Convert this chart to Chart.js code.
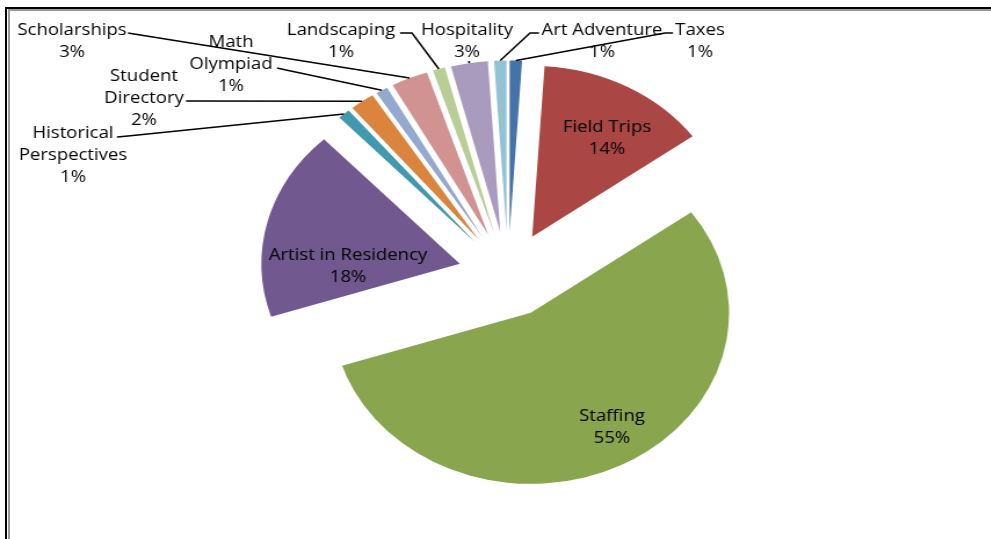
<!DOCTYPE html>
<html>
<head>
<meta charset="utf-8">
<script src="https://cdn.jsdelivr.net/npm/chart.js@4.4.0/dist/chart.umd.min.js"></script>
<style>
  html, body { margin: 0; padding: 0; background: #fff; }
  #page { position: relative; width: 991px; height: 539px; overflow: hidden; }
  #wrap { position: absolute; left: 0; top: 0; width: 855px; height: 539px;
          transform: scaleX(1.16); transform-origin: 0 0; }
  .rule { position: absolute; }
</style>
</head>
<body>
<div id="page">
  <div id="wrap"><canvas id="chart-budget" width="855" height="539"></canvas></div>
  <div class="rule" style="left:5px;top:7px;width:986px;height:2px;background:#000"></div>
  <div class="rule" style="left:8px;top:9px;width:983px;height:2px;background:#9a9a9a"></div>
  <div class="rule" style="left:5px;top:7px;width:2px;height:532px;background:#000"></div>
  <div class="rule" style="left:8px;top:9px;width:2px;height:530px;background:#9a9a9a"></div>
</div>
<script>
const categories = ['Taxes', 'Field Trips', 'Staffing', 'Artist in Residency',
  'Historical Perspectives', 'Student Directory', 'Math Olympiad', 'Scholarships',
  'Landscaping', 'Hospitality', 'Art Adventure'];
const shares = [1, 14, 55, 18, 1, 2, 1, 3, 1, 3, 1];
const sliceColors = ['#4572A7', '#AA4643', '#89A54E', '#71588F', '#4198AF', '#DB843D',
  '#93A9CF', '#D19392', '#B9CD96', '#A99BBD', '#91C3D5'];

const STRETCH = 1.16;   // el grafico original esta estirado a lo ancho
const EXPLODE = 43;     // separacion de cada rebanada

// posicion de las etiquetas (pixeles de la pagina) y quiebres de las lineas guia
const labelLayout = {
  'Taxes': { x: 700, y: 35, lines: ['Taxes'], path: [[673, 33], [665, 33]] },
  'Field Trips': { x: 607, y: 132, lines: ['Field Trips'] },
  'Staffing': { x: 612, y: 421, lines: ['Staffing'] },
  'Artist in Residency': { x: 348, y: 260, lines: ['Artist in Residency'] },
  'Historical Perspectives': { x: 73, y: 138, lines: ['Historical', 'Perspectives'], path: [[117, 137], [128, 136]] },
  'Student Directory': { x: 144, y: 81, lines: ['Student', 'Directory'], path: [[186, 101]] },
  'Math Olympiad': { x: 231, y: 47, lines: ['Math', 'Olympiad'], path: [[277, 68], [286, 70]] },
  'Scholarships': { x: 72, y: 35, lines: ['Scholarships'], path: [[128, 33], [134, 34]] },
  'Landscaping': { x: 341, y: 35, lines: ['Landscaping'], path: [[400, 33], [412, 33]] },
  'Hospitality': { x: 467, y: 35, lines: ['Hospitality'], path: [[469, 61]] },
  'Art Adventure': { x: 602, y: 35, lines: ['Art Adventure'], path: [[539, 33], [530, 33]] }
};

const total = shares.reduce((a, b) => a + b, 0);

const explodePlugin = {
  id: 'explode',
  afterDatasetUpdate(chart, args) {
    chart.getDatasetMeta(args.index).data.forEach(arc => {
      const mid = (arc.startAngle + arc.endAngle) / 2;
      arc.x += Math.cos(mid) * EXPLODE;
      arc.y += Math.sin(mid) * EXPLODE;
    });
  }
};

const labelsPlugin = {
  id: 'pieLabels',
  afterDatasetsDraw(chart) {
    const ctx = chart.ctx;
    const meta = chart.getDatasetMeta(0);
    ctx.save();
    ctx.font = '16px "Open Sans"';
    ctx.fillStyle = '#000';
    ctx.strokeStyle = '#000';
    ctx.lineWidth = 1.5;
    ctx.textAlign = 'center';
    ctx.textBaseline = 'alphabetic';
    meta.data.forEach((arc, i) => {
      const lay = labelLayout[categories[i]];
      const pct = Math.round(shares[i] / total * 100) + '%';
      lay.lines.concat(pct).forEach((t, k) => {
        ctx.fillText(t, lay.x / STRETCH, lay.y + k * 22);
      });
      if (lay.path) {
        const mid = (arc.startAngle + arc.endAngle) / 2;
        const ex = arc.x + Math.cos(mid) * arc.outerRadius;
        const ey = arc.y + Math.sin(mid) * arc.outerRadius;
        ctx.beginPath();
        lay.path.forEach(([px, py], k) => {
          if (k === 0) ctx.moveTo(px / STRETCH, py);
          else ctx.lineTo(px / STRETCH, py);
        });
        ctx.lineTo(ex, ey);
        ctx.stroke();
      }
    });
    ctx.restore();
  }
};

new Chart(document.getElementById('chart-budget'), {
  type: 'pie',
  data: {
    labels: categories,
    datasets: [{
      data: shares,
      backgroundColor: sliceColors,
      borderWidth: 0,
      radius: 171
    }]
  },
  options: {
    responsive: false,
    animation: false,
    events: [],
    layout: { padding: { left: 21, top: 10, right: 0, bottom: 0 } },
    plugins: {
      legend: { display: false },
      tooltip: { enabled: false }
    }
  },
  plugins: [explodePlugin, labelsPlugin]
});
</script>
</body>
</html>
